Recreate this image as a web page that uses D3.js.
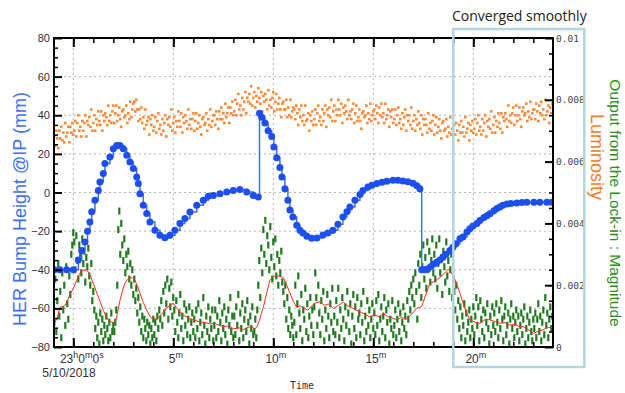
<!DOCTYPE html>
<html>
<head>
<meta charset="utf-8">
<script src="https://cdn.jsdelivr.net/npm/d3@7"></script>
<style>
  body { margin: 0; background: #fff; }
</style>
</head>
<body>
<svg width="625" height="393"></svg>
<script>
// time axis: minutes after 23h0m0s, 5/10/2018
const xMajorTicks = [0, 5, 10, 15, 20];
const xMajorLabels = ["23h0m0s", "5m", "10m", "15m", "20m"];
const xMinorTicks = [0,1,2,3,4,5,6,7,8,9,10,11,12,13,14,15,16,17,18,19,20,21,22,23];
const dateLabel = "5/10/2018";

const yLeftTicks = [-80, -60, -40, -20, 0, 20, 40, 60, 80];
const yLeftMinor = [-75,-70,-65,-55,-50,-45,-35,-30,-25,-15,-10,-5,5,10,15,25,30,35,45,50,55,65,70,75];
const yRightTicks = [0, 0.002, 0.004, 0.006, 0.008, 0.01];
const yRightLabels = ["0", "0.002", "0.004", "0.006", "0.008", "0.01"];
const yRightMinor = [0.0005,0.001,0.0015,0.0025,0.003,0.0035,0.0045,0.005,0.0055,0.0065,0.007,0.0075,0.0085,0.009,0.0095];

// HER bump height @IP (mm): [minute, mm]
const bumpHeight = [
  [-0.95,-40],[-0.67,-40],[-0.33,-40],[0,-40],[0.25,-35],[0.42,-30],[0.58,-25.6],[0.71,-20],[0.83,-15.3],
  [0.92,-10],[1.08,-4],[1.25,1],[1.33,5.4],[1.5,9.8],[1.58,15],[1.83,18.4],[2.0,22.7],[2.17,24.4],
  [2.33,24.4],[2.5,22.7],[2.67,19.3],[2.83,15.8],[3.0,12.4],[3.17,8],[3.25,4.6],[3.33,-0.6],[3.5,-6.6],
  [3.67,-10.9],[3.83,-15.3],[4.08,-19.6],[4.33,-22.2],[4.58,-23.4],[4.83,-22.2],[5.08,-19.6],[5.33,-16.1],
  [5.58,-13.5],[5.83,-10.1],[6.17,-6.6],[6.5,-4],[6.75,-2],[7.0,-1.5],[7.33,-0.6],[7.67,0.3],[8.0,1.1],
  [8.33,1.6],[8.67,0.3],[9.0,-1.5],[9.25,-2.3],
  [9.31,41],[9.42,39],[9.58,36],[9.74,32],[9.92,29],[10.03,23.5],[10.17,18],[10.33,13],[10.43,8],
  [10.58,2],[10.73,-4],[10.83,-9],[10.98,-12.7],[11.17,-17],[11.33,-19.5],[11.48,-21],[11.68,-22.7],
  [11.92,-23.7],[12.18,-23.5],[12.48,-22],[12.73,-21],[12.98,-19.6],[13.23,-16.5],[13.48,-12.7],
  [13.68,-10],[13.83,-7.5],[14.08,-4],[14.33,-1],[14.48,1],[14.73,2.8],[14.93,3.8],[15.17,4.6],
  [15.43,5.3],[15.68,5.8],[15.98,6.3],[16.23,6.3],[16.48,6],[16.73,5.6],[16.98,4.8],[17.18,3.5],[17.33,2],
  [17.42,-40],[17.58,-40],[17.73,-39.5],[17.88,-38.3],[18.03,-37],[18.18,-36],[18.33,-35],[18.48,-33.5],
  [18.63,-32],[18.83,-30],[18.98,-28.3],[19.13,-26.5],[19.33,-24],[19.48,-23],[19.68,-20.5],[19.83,-18.8],
  [19.98,-17.3],[20.18,-16],[20.33,-14.5],[20.53,-13],[20.68,-12],[20.83,-11],[21.03,-9.5],[21.18,-8.3],
  [21.33,-7.5],[21.48,-6.6],[21.68,-6],[21.88,-5.7],[22.17,-5.4],[22.43,-5.2],[22.68,-5],[23.03,-5],
  [23.33,-5],[23.68,-5],[23.93,-5]
];

// samples every 0.05 min starting at -0.95 min
const sampleStart = -0.95;
const sampleStep = 0.05;

// luminosity, read against the left-axis grid
const luminosity = [
  29,24,32,28,23,32,28,34,27,31,26,36,29,31,34,26,34,31,36,30,
  32,37,29,36,40,32,34,29,37,32,36,40,29,37,35,39,34,43,32,36,
  40,32,38,35,42,37,35,42,32,40,37,41,39,35,45,37,40,36,42,45,
  36,41,45,37,40,44,38,34,42,43,39,40,45,36,41,38,47,39,43,46,
  47,42,48,43,37,43,38,44,36,39,33,43,35,37,39,30,38,35,40,32,
  34,39,31,37,41,33,35,30,38,32,36,40,29,38,35,39,34,43,32,36,
  39,31,37,34,42,37,34,41,31,39,36,40,37,33,43,35,38,33,38,41,
  32,37,41,33,36,40,34,30,38,39,35,36,41,32,38,35,43,34,37,40,
  40,35,42,38,33,42,38,44,38,41,36,46,39,41,44,36,44,41,47,40,
  42,48,40,46,51,43,45,40,49,43,47,52,41,49,47,51,46,55,45,49,
  52,44,50,47,54,49,46,52,42,50,47,51,48,43,53,45,48,44,49,52,
  42,47,51,43,46,49,43,39,46,47,43,43,48,39,44,40,48,39,42,44,
  43,38,45,41,35,43,39,45,37,40,35,45,37,38,41,32,40,37,42,35,
  38,43,35,41,45,37,39,35,43,37,41,45,34,43,40,44,39,48,37,42,
  45,37,43,40,48,43,40,46,36,44,41,45,42,38,48,40,42,38,43,46,
  36,41,45,37,39,43,37,33,41,42,39,40,45,36,41,38,46,37,40,42,
  43,38,45,41,36,44,40,46,39,41,36,46,38,40,43,34,42,39,43,36,
  38,43,35,40,44,36,38,33,41,35,39,43,32,40,37,40,35,44,33,37,
  40,32,38,35,42,36,33,40,30,38,35,38,35,31,41,33,36,32,37,40,
  30,35,39,31,34,38,32,28,36,37,32,33,38,29,34,31,39,30,33,35,
  35,30,36,32,27,35,31,37,31,34,29,39,31,33,36,27,35,32,37,31,
  33,38,30,36,40,32,34,30,38,32,36,40,29,37,34,38,33,42,31,35,
  39,31,37,34,41,36,33,41,31,39,37,41,38,34,45,37,40,36,41,44,
  35,40,45,37,40,44,38,34,42,44,40,41,46,37,42,39,47,38,41,43,
  43,38,46,42,37,45,41,47,40,43,38,48,40,42,45,36,44,41,46,40
];

// lock-in magnitude, in units of 1e-4
const lockIn = [
  8,22,5,15,27,10,18,3,24,12,20,7,26,14,9,23,17,30,33,37,
  34,25,36,28,22,33,30,24,35,27,31,21,29,26,32,23,20,27,15,18,
  12,6,10,3,8,1,11,5,9,2,7,4,10,6,2,8,3,11,5,7,
  5,8,12,20,38,44,30,40,33,28,35,24,30,26,31,22,27,20,25,17,
  22,15,19,11,16,8,13,5,10,3,9,6,2,8,4,7,1,6,3,9,
  4,8,2,10,6,12,9,15,7,18,11,20,14,22,9,19,13,21,10,16,
  12,5,15,8,3,11,17,6,10,2,14,7,12,4,9,13,3,8,11,5,
  9,3,12,6,14,2,8,11,4,16,7,1,10,5,13,3,9,6,12,2,
  7,12,3,10,5,15,8,2,11,6,13,4,9,1,12,7,16,5,10,3,
  10,4,13,7,17,2,11,6,14,3,9,12,5,15,8,1,10,6,13,4,
  5,9,3,12,20,28,16,32,24,38,30,41,27,36,33,25,39,29,22,34,
  26,35,23,30,20,28,24,31,21,18,14,20,9,16,6,12,4,10,7,3,
  8,20,4,14,23,11,6,17,2,12,9,19,5,14,3,10,16,7,12,4,
  13,24,16,7,20,11,4,15,9,18,2,12,6,17,10,3,14,8,19,5,
  10,4,15,8,19,3,12,6,16,9,2,13,7,18,11,5,14,1,10,17,
  6,13,3,16,9,11,4,14,8,18,2,10,5,15,7,12,3,9,14,6,
  11,4,15,7,17,2,9,13,5,10,16,3,12,8,14,1,9,6,15,4,
  7,12,3,9,14,5,11,2,8,13,6,10,4,15,9,18,12,20,16,22,
  14,24,18,9,27,20,30,16,26,33,22,29,19,34,25,31,21,28,35,24,
  30,22,33,19,27,35,24,29,17,31,26,21,34,23,28,18,25,30,16,22,
  18,12,20,9,15,6,13,3,10,7,14,2,11,5,8,12,3,9,6,13,
  4,10,16,7,13,2,15,9,5,12,3,11,8,14,6,1,10,4,13,7,
  11,5,14,8,3,12,6,15,9,2,10,13,4,7,11,1,9,14,6,10,
  3,8,12,5,10,2,7,11,4,9,13,1,6,10,3,8,12,5,2,9,
  6,11,3,9,14,5,10,2,8,12,4,16,7,11,3,9,13,6,10,4
];

// smoothed lock-in magnitude (1e-4): [minute, value]
const lockInSmooth = [
  [-0.95,7.7],[-0.8,9.5],[-0.67,12.8],[-0.42,13.4],[-0.3,14.8],[-0.17,16.9],[0.0,19],[0.17,21.6],[0.3,23.5],
  [0.42,24.8],[0.6,24.9],[0.75,24.4],[0.88,22.6],[1.0,20.6],[1.12,18.4],[1.25,16.3],[1.38,14],[1.5,11.9],
  [1.62,10.2],[1.75,8.8],[1.92,8.0],[2.08,7.5],[2.17,9.7],[2.25,12.4],[2.33,15],[2.45,18],[2.58,20.6],
  [2.7,21.8],[2.83,22.5],[2.95,22.4],[3.08,21.6],[3.2,19.8],[3.33,17.5],[3.5,14.4],[3.67,11.9],[3.83,10.0],
  [4.0,8.8],[4.17,9.2],[4.33,10],[4.5,11.3],[4.67,12.5],[4.83,13.6],[5.0,14.1],[5.15,12.8],[5.33,11.3],
  [5.58,10.0],[5.83,9.1],[6.1,8.6],[6.33,8.1],[6.6,7.9],[6.83,7.5],[7.1,7.6],[7.33,6.9],[7.6,6.6],[7.8,6.9],
  [8.0,5.9],[8.3,6.2],[8.5,5.6],[8.67,6.3],[8.9,6.6],[9.05,5.9],[9.17,6.3],[9.3,8.5],[9.4,10.8],[9.5,12.8],
  [9.67,17.5],[9.83,21.6],[10.0,22.8],[10.17,23.1],[10.33,22.9],[10.5,22.5],[10.67,20],[10.83,17.5],
  [11.0,14.8],[11.17,12.8],[11.33,13.4],[11.5,12.6],[11.73,11.9],[11.9,13.2],[12.1,14.3],[12.33,14.6],
  [12.55,13.5],[12.75,13.9],[13.0,12.5],[13.25,13.4],[13.5,14.6],[13.7,13.4],[13.9,12.8],[14.17,11.9],
  [14.4,11.2],[14.6,10.6],[14.83,9.7],[15.05,10.4],[15.3,9.8],[15.5,10.9],[15.7,9.9],[15.95,9.4],[16.17,8.8],
  [16.4,9.5],[16.67,9.1],[16.9,10.5],[17.17,12.5],[17.42,13.1],[17.6,16.5],[17.83,20.6],[18.1,21.4],
  [18.33,22.5],[18.55,23.8],[18.75,25.2],[19.0,23.1],[19.17,20.3],[19.33,17.5],[19.5,14],[19.67,11],
  [19.83,8.8],[20.1,8.0],[20.33,7.7],[20.6,8.9],[20.83,8.8],[21.1,8.2],[21.33,7.7],[21.6,7.9],[21.83,7.1],
  [22.1,7.4],[22.3,6.6],[22.5,6.6],[22.75,5.6],[23.0,4.4],[23.25,5.1],[23.5,5.6],[23.7,6.4],[23.98,6.3]
];

const svg = d3.select("svg");
const plotLeft = 54, plotRight = 553, plotTop = 38, plotBottom = 347;

const x = d3.scaleLinear().domain([-0.965, 23.985]).range([plotLeft, plotRight]);
const yBump = d3.scaleLinear().domain([-80, 80]).range([plotBottom, plotTop]);
const yLum = d3.scaleLinear().domain([-80, 80]).range([plotBottom, plotTop]);
const yLock = d3.scaleLinear().domain([0, 0.01]).range([plotBottom, plotTop]);

svg.append("defs").append("clipPath").attr("id", "plot")
  .append("rect").attr("x", plotLeft).attr("y", plotTop)
  .attr("width", plotRight - plotLeft).attr("height", plotBottom - plotTop);

// grid
const grid = svg.append("g").attr("stroke", "#b4b4b4").attr("stroke-dasharray", "2,3").attr("stroke-width", 1);
grid.selectAll(".gx").data(xMajorTicks).enter().append("line")
  .attr("x1", d => x(d)).attr("x2", d => x(d)).attr("y1", plotTop).attr("y2", plotBottom);
grid.selectAll(".gy").data(yLeftTicks.slice(1, -1)).enter().append("line")
  .attr("x1", plotLeft).attr("x2", plotRight).attr("y1", d => yBump(d)).attr("y2", d => yBump(d));

const plot = svg.append("g").attr("clip-path", "url(#plot)");

// luminosity dots
plot.append("g").selectAll("rect").data(luminosity).enter().append("rect")
  .attr("x", (d, i) => x(sampleStart + i * sampleStep) - 1.3)
  .attr("y", d => yLum(d) - 1.3)
  .attr("width", 2.6).attr("height", 2.6)
  .attr("fill", "#ff8a35");

// lock-in dots
plot.append("g").selectAll("rect").data(lockIn).enter().append("rect")
  .attr("x", (d, i) => x(sampleStart + i * sampleStep) - 1.1)
  .attr("y", d => yLock(d * 1e-4) - 3.5)
  .attr("width", 2.2).attr("height", 7)
  .attr("fill", "#1f7a1f");

// smoothed lock-in
plot.append("path").datum(lockInSmooth)
  .attr("d", d3.line().x(d => x(d[0])).y(d => yLock(d[1] * 1e-4)))
  .attr("fill", "none").attr("stroke", "#ff2a1a").attr("stroke-width", 1);

// bump height
plot.append("path").datum(bumpHeight)
  .attr("d", d3.line().curve(d3.curveStepAfter).x(d => x(d[0])).y(d => yBump(d[1])))
  .attr("fill", "none").attr("stroke", "#3f70f2").attr("stroke-width", 1.5);
plot.append("g").selectAll("circle").data(bumpHeight).enter().append("circle")
  .attr("cx", d => x(d[0])).attr("cy", d => yBump(d[1])).attr("r", 3.5)
  .attr("fill", "#1d4ff0");

// axes
function styleAxis(g, w) {
  g.select(".domain").remove();
  g.selectAll(".tick line").attr("stroke", "#000").attr("stroke-width", w);
}
svg.append("g").attr("transform", `translate(0,${plotBottom})`)
  .call(d3.axisBottom(x).tickValues(xMinorTicks).tickSize(-5).tickFormat(""))
  .call(g => styleAxis(g, 1.5));
svg.append("g").attr("transform", `translate(0,${plotTop})`)
  .call(d3.axisTop(x).tickValues(xMinorTicks).tickSize(-5).tickFormat(""))
  .call(g => styleAxis(g, 1.5));
const xb = svg.append("g").attr("transform", `translate(0,${plotBottom})`)
  .call(d3.axisBottom(x).tickValues(xMajorTicks).tickSize(-9).tickFormat(""))
  .call(g => styleAxis(g, 2));
svg.append("g").attr("transform", `translate(0,${plotTop})`)
  .call(d3.axisTop(x).tickValues(xMajorTicks).tickSize(-9).tickFormat(""))
  .call(g => styleAxis(g, 2));

// superscripted time labels
xb.selectAll(".tick").each(function(d, i) {
  const text = d3.select(this).append("text")
    .attr("y", 16).attr("dx", i === 0 ? 8 : 2)
    .attr("text-anchor", "middle")
    .attr("fill", "#333").attr("font-family", "Liberation Sans, Arial, sans-serif").attr("font-size", 12);
  let up = false;
  xMajorLabels[i].match(/\d+|[a-z]+/g).forEach(p => {
    const unit = /[a-z]/.test(p);
    const ts = text.append("tspan").text(p);
    if (unit) ts.attr("font-size", 9);
    if (unit && !up) { ts.attr("dy", -5); up = true; }
    else if (!unit && up) { ts.attr("dy", 5); up = false; }
  });
});

svg.append("text").attr("x", 69).attr("y", 377).attr("text-anchor", "middle")
  .attr("fill", "#333").attr("font-family", "Liberation Sans, Arial, sans-serif").attr("font-size", 12)
  .text(dateLabel);
svg.append("text").attr("x", 302).attr("y", 389).attr("text-anchor", "middle")
  .attr("fill", "#333").attr("font-family", "DejaVu Sans Mono, monospace").attr("font-size", 10)
  .text("Time");

svg.append("g").attr("transform", `translate(${plotLeft},0)`)
  .call(d3.axisLeft(yBump).tickValues(yLeftMinor).tickSize(-4).tickFormat(""))
  .call(g => styleAxis(g, 1.5));
svg.append("g").attr("transform", `translate(${plotLeft},0)`)
  .call(d3.axisLeft(yBump).tickValues(yLeftTicks).tickSize(-8).tickPadding(4))
  .call(g => styleAxis(g, 2))
  .call(g => g.selectAll("text").attr("fill", "#333").attr("font-size", 11)
    .attr("font-family", "Liberation Sans, Arial, sans-serif"));

svg.append("g").attr("transform", `translate(${plotRight},0)`)
  .call(d3.axisRight(yLock).tickValues(yRightMinor).tickSize(-4).tickFormat(""))
  .call(g => styleAxis(g, 1.5));
svg.append("g").attr("transform", `translate(${plotRight},0)`)
  .call(d3.axisRight(yLock).tickValues(yRightTicks).tickSize(-8).tickPadding(3)
    .tickFormat((d, i) => yRightLabels[i]))
  .call(g => styleAxis(g, 2))
  .call(g => g.selectAll("text").attr("fill", "#444").attr("font-size", 9.5)
    .attr("font-family", "DejaVu Sans Mono, monospace"));

// frame
svg.append("rect").attr("x", plotLeft).attr("y", plotTop)
  .attr("width", plotRight - plotLeft).attr("height", plotBottom - plotTop)
  .attr("fill", "none").attr("stroke", "#000").attr("stroke-width", 2);

// highlight box
svg.append("rect").attr("x", x(19)).attr("y", 29).attr("width", 131).attr("height", 338)
  .attr("fill", "none").attr("stroke", "#b3d6de").attr("stroke-width", 2.5);
svg.append("text").attr("x", 452).attr("y", 21)
  .attr("font-family", "Open Sans, sans-serif").attr("font-size", 14).attr("fill", "#222")
  .text("Converged smoothly");

// axis titles
svg.append("text").attr("transform", "translate(26,209) rotate(-90)").attr("text-anchor", "middle")
  .attr("font-family", "Liberation Sans, Arial, sans-serif").attr("font-size", 18).attr("fill", "#3d6ff5")
  .text("HER Bump Height @IP (mm)");
svg.append("text").attr("transform", "translate(591,157) rotate(90)").attr("text-anchor", "middle")
  .attr("font-family", "Liberation Sans, Arial, sans-serif").attr("font-size", 18).attr("fill", "#f47b20")
  .text("Luminosity");
svg.append("text").attr("transform", "translate(610,203) rotate(90)").attr("text-anchor", "middle")
  .attr("font-family", "Liberation Sans, Arial, sans-serif").attr("font-size", 15.5).attr("fill", "#2e8b22")
  .text("Output from the Lock-in : Magnitude");
</script>
</body>
</html>
